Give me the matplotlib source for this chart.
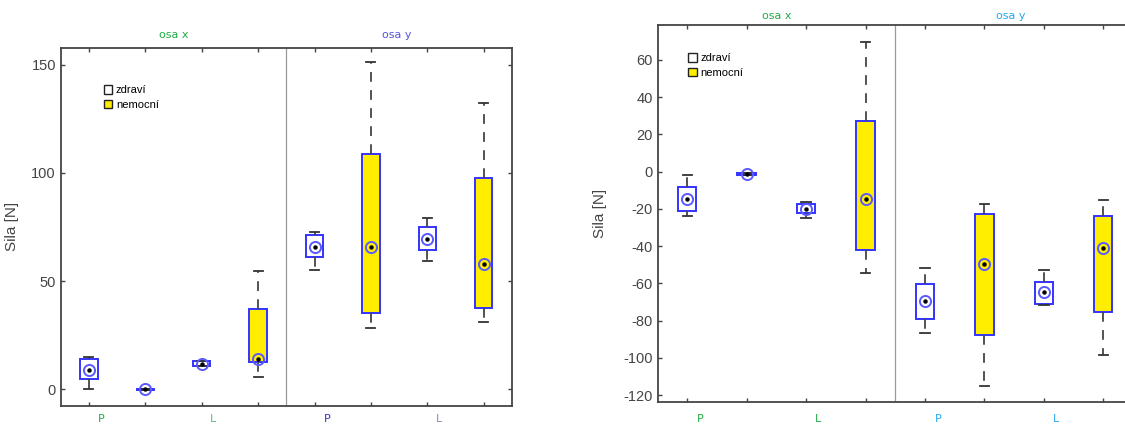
import numpy as np
import matplotlib
matplotlib.use("Agg")
import matplotlib.pyplot as plt
from matplotlib.patches import Patch

plt.rcParams['font.family'] = ['Liberation Sans', 'DejaVu Sans']
plt.rcParams['lines.scale_dashes'] = False
plt.rcParams['axes.unicode_minus'] = False

# box positions: 1..4 = osa x, 5..8 = osa y ; odd = zdraví, even = nemocní
positions = [1, 2, 3, 4, 5, 6, 7, 8]
groups = ['zdraví', 'nemocní', 'zdraví', 'nemocní', 'zdraví', 'nemocní', 'zdraví', 'nemocní']
group_labels = ['P', 'L', 'P', 'L']
group_label_pos = [1.22, 3.2, 5.22, 7.2]

# left chart
left_whislo = [0.3, -0.3, 10.6, 5.7, 55.3, 28.5, 59.3, 31.0]
left_q1 = [5.0, -0.2, 10.9, 12.7, 61.0, 35.4, 64.2, 37.6]
left_med = [9.1, 0.0, 11.8, 13.9, 65.9, 65.6, 69.5, 57.9]
left_q3 = [13.9, 0.2, 13.1, 37.0, 71.4, 108.8, 74.9, 97.8]
left_whishi = [15.0, 0.3, 13.3, 54.5, 72.6, 151.2, 79.4, 132.5]

# right chart
right_whislo = [-23.8, -1.7, -25.1, -54.6, -86.5, -115.0, -71.5, -98.5]
right_q1 = [-21.0, -1.6, -22.4, -41.9, -79.0, -87.8, -70.9, -75.4]
right_med = [-14.5, -1.1, -20.1, -14.5, -69.3, -49.3, -64.5, -40.8]
right_q3 = [-8.4, -0.6, -17.6, 27.0, -60.5, -22.9, -59.1, -23.8]
right_whishi = [-1.6, -0.5, -16.1, 69.7, -51.8, -17.2, -52.8, -15.2]

fill_colors = {'zdraví': 'white', 'nemocní': '#ffee00'}
box_edge = '#3333ff'


def draw_panel(ax, whislo, q1, med, q3, whishi, ylim, yticks,
               label_colors, top_colors, top_y, bottom_y, leg_pos):
    stats = []
    for i in range(len(positions)):
        stats.append({'whislo': whislo[i], 'q1': q1[i], 'med': med[i],
                      'q3': q3[i], 'whishi': whishi[i], 'fliers': []})
    bp = ax.bxp(stats, positions=positions, widths=0.31, patch_artist=True,
                showfliers=False, capwidths=0.16,
                boxprops=dict(edgecolor=box_edge, linewidth=1.4),
                whiskerprops=dict(color='#444444', linewidth=1.3,
                                  linestyle=(0, (7, 6))),
                capprops=dict(color='#333333', linewidth=1.3),
                medianprops=dict(linestyle='none'))
    for patch, g in zip(bp['boxes'], groups):
        patch.set_facecolor(fill_colors[g])
    ax.plot(positions, med, 'o', ms=8, mfc='none', mec='#5a5aff', mew=1.4, zorder=5)
    ax.plot(positions, med, 'o', ms=2.2, color='black', zorder=6)

    ax.axvline(4.5, color='#999999', linewidth=0.9)
    ax.set_xlim(0.5, 8.5)
    ax.set_ylim(*ylim)
    ax.set_yticks(yticks)
    ax.set_xticks(positions)
    ax.set_xticklabels([])
    ax.tick_params(direction='in', length=3, top=True, right=True,
                   labelsize=10.5, labelcolor='#444444', color='#444444', width=1)
    for s in ax.spines.values():
        s.set_color('#444444')
        s.set_linewidth(1.3)
    ax.set_ylabel('Sila [N]', fontsize=11, color='#444444')

    tr = ax.get_xaxis_transform()
    for x, t, c in zip(group_label_pos, group_labels, label_colors):
        ax.text(x, bottom_y, t, transform=tr, ha='center', va='center',
                fontsize=8, color=c, family='DejaVu Sans')
    ax.text(2.5, top_y, 'osa x', transform=tr, ha='center', va='center',
            fontsize=8, color=top_colors[0], family='DejaVu Sans')
    ax.text(6.45, top_y, 'osa y', transform=tr, ha='center', va='center',
            fontsize=8, color=top_colors[1], family='DejaVu Sans')

    handles = [Patch(facecolor='white', edgecolor='#222222', label='zdraví'),
               Patch(facecolor='#ffee00', edgecolor='#222222', label='nemocní')]
    ax.legend(handles=handles, loc='upper left', bbox_to_anchor=leg_pos,
              frameon=False, fontsize=8, handlelength=0.8, handleheight=0.8,
              handletextpad=0.3, labelspacing=0.4, borderpad=0, borderaxespad=0)


fig = plt.figure(figsize=(11.25, 4.25), dpi=100)
ax1 = fig.add_axes([0.054, 0.0447, 0.401, 0.843])
ax2 = fig.add_axes([0.5845, 0.0534, 0.4226, 0.888])

draw_panel(ax1, left_whislo, left_q1, left_med, left_q3, left_whishi,
           (-7.7, 157.9), [0, 50, 100, 150],
           ['#22aa44', '#66bb77', '#3333bb', '#8888cc'],
           ['#22aa44', '#5555dd'], 1.035, -0.036, (0.095, 0.895))
ax1.yaxis.set_label_coords(-0.093, 0.5)

draw_panel(ax2, right_whislo, right_q1, right_med, right_q3, right_whishi,
           (-123.8, 78.8), list(range(-120, 61, 20)),
           ['#22aa44', '#22aa44', '#22aaee', '#22aaee'],
           ['#22aa44', '#22aaee'], 1.024, -0.045, (0.064, 0.925))
ax2.yaxis.set_label_coords(-0.106, 0.5)

fig.savefig('out.png', dpi=100)
